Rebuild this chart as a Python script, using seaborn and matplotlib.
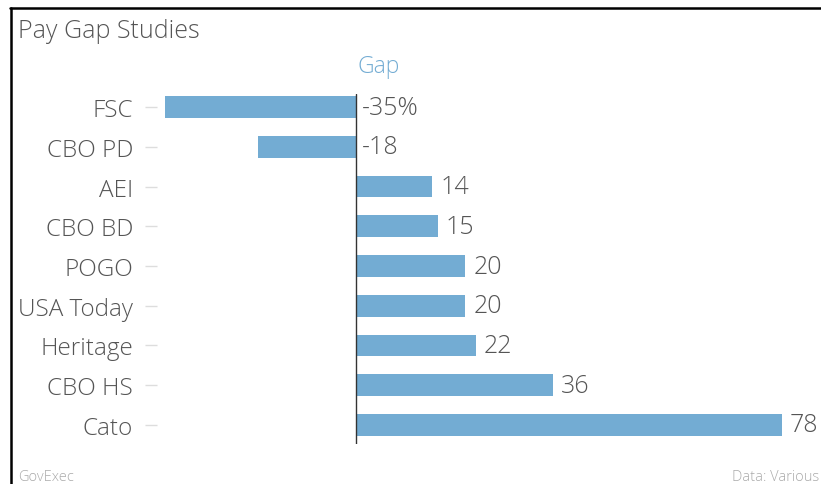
import matplotlib
matplotlib.use("Agg")
import matplotlib.pyplot as plt
import seaborn as sns
import pandas as pd
from matplotlib.lines import Line2D

categories = ["FSC", "CBO PD", "AEI", "CBO BD", "POGO", "USA Today", "Heritage", "CBO HS", "Cato"]
gap_values = [-35, -18, 14, 15, 20, 20, 22, 36, 78]
value_labels = ["-35%", "-18", "14", "15", "20", "20", "22", "36", "78"]

sns.set_theme(style="white")
plt.rcParams['font.family'] = ['Open Sans', 'DejaVu Sans']

W, H = 821, 485
fig = plt.figure(figsize=(W / 100, H / 100), dpi=100)

ax_left_px, ax_right_px = 157, 821
ax_top_px, ax_bot_px = 95, 445
ax = fig.add_axes([ax_left_px / W, 1 - ax_bot_px / H,
                   (ax_right_px - ax_left_px) / W, (ax_bot_px - ax_top_px) / H])

df = pd.DataFrame({"study": categories, "gap": gap_values})
bar_color = "#73acd3"
sns.barplot(data=df, x="gap", y="study", orient="h", color=bar_color,
            width=0.55, ax=ax, saturation=1, linewidth=0)

zero_px = 356
ppu = 5.46
ax.set_xlim((ax_left_px - zero_px) / ppu, (ax_right_px - zero_px) / ppu)
ax.set_ylim(8.48, -0.33)

for s in ax.spines.values():
    s.set_visible(False)
ax.axvline(0, color="#333333", lw=1.0)

ax.set_xlabel("")
ax.set_ylabel("")
ax.set_xticks([])
ax.tick_params(axis="y", length=8.6, width=1, color="#dddddd", pad=8.6,
               labelsize=17.5, labelcolor="#555555", left=True)
for t in ax.get_yticklabels():
    t.set_fontweight("light")

for i, (v, lab) in enumerate(zip(gap_values, value_labels)):
    x = v if v > 0 else 0
    ax.annotate(lab, xy=(x, i), xytext=(8 if v > 0 else 6, 0), textcoords="offset pixels",
                ha="left", va="center", fontsize=18, color="#555555", fontweight="light")

fig.text(18 / W, 1 - 32 / H, "Pay Gap Studies", ha="left", va="center",
         fontsize=18, color="#555555", fontweight="light")
fig.text(379 / W, 1 - 67 / H, "Gap", ha="center", va="center",
         fontsize=16.5, color="#73acd3", fontweight="light")
fig.text(18 / W, 1 - 478 / H, "GovExec", ha="left", va="center",
         fontsize=10.5, color="#aaaaaa", fontweight="light")
fig.text(819 / W, 1 - 478 / H, "Data: Various", ha="right", va="center",
         fontsize=10.5, color="#aaaaaa", fontweight="light")

fig.add_artist(Line2D([10 / W, 1], [1 - 9 / H, 1 - 9 / H], color="black", lw=1.8,
                      transform=fig.transFigure))
fig.add_artist(Line2D([10.5 / W, 10.5 / W], [0, 1 - 9 / H], color="black", lw=1.8,
                      transform=fig.transFigure))

fig.savefig("out.png", dpi=100)
